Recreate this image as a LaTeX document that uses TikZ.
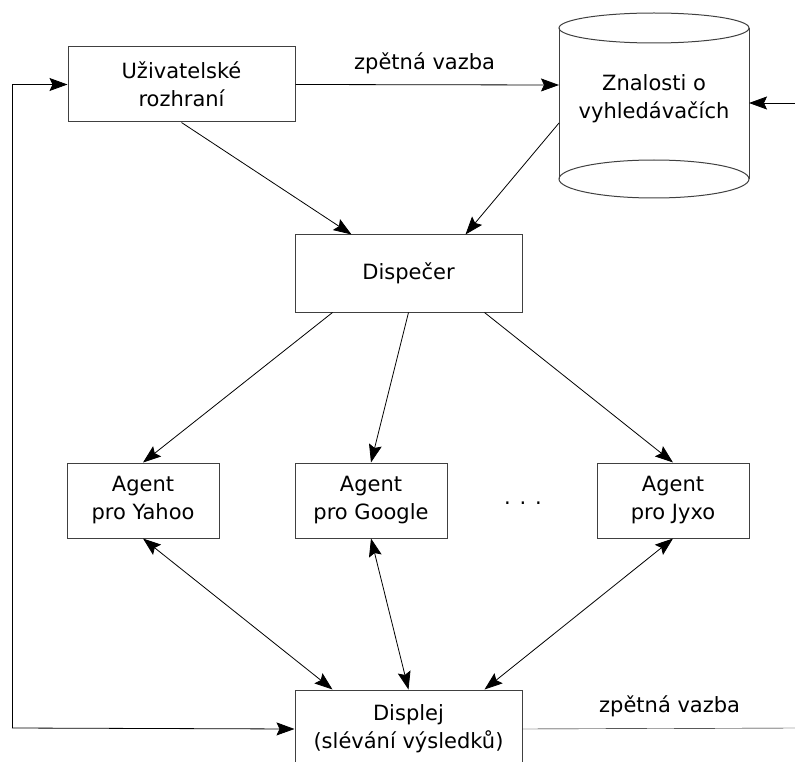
\documentclass[tikz,border=0pt]{standalone}
\usepackage{fontspec}
\setmainfont{DejaVu Sans}
\usetikzlibrary{arrows.meta}
\tikzset{
  >={Stealth[length=18pt,width=13pt,inset=3pt]},
  box/.style={draw=black!75, line width=1pt, minimum width=227pt, minimum height=75pt, inner sep=0pt},
  agentbox/.style={box, minimum width=152pt},
  outline/.style={draw=black!75, line width=1pt},
  link/.style={->, line width=0.8pt},
  dlink/.style={<->, line width=0.8pt},
  every node/.append style={font=\fontsize{21}{28}\selectfont, align=center}
}
\begin{document}
\begin{tikzpicture}[x=1pt, y=-1pt]
\useasboundingbox (0,0) rectangle (795,762);
\clip (0,0) rectangle (795,762);
% boxes
\node[box] (ui) at (181.5,84.5) {Uživatelské\\rozhraní};
\node[box, minimum height=77pt] (disp) at (408.5,273.5) {Dispečer};
\node[agentbox] (yahoo) at (143,500.5) {Agent\\pro Yahoo};
\node[agentbox] (google) at (371,500.5) {Agent\\pro Google};
\node[agentbox] (jyxo) at (673,500.5) {Agent\\pro Jyxo};
\node (dots) at (523,503) {. . .};
\node[box, minimum height=78pt] (show) at (408.5,729) {Displej\\(slévání výsledků)};
% knowledge base
\draw[outline] (559,28) -- (559,179) (749,28) -- (749,179);
\draw[outline] (654,28) ellipse [x radius=95, y radius=15];
\draw[outline] (654,179) ellipse [x radius=95, y radius=19];
\node (kb) at (654,99) {Znalosti o\\vyhledávačích};
\coordinate (kbW) at (559,85);
\coordinate (kbSW) at (559,123);
\coordinate (kbE) at (749,103);
\coordinate (feedin) at (795,103);
\coordinate (feedout) at (795,728);
\coordinate (loop) at (12,728);
% connectors
\draw[link] (ui.east) -- node[pos=0.49, above=7pt] {zpětná vazba} (kbW);
\draw[link] (feedin) -- (kbE);
\draw[link] (ui.south) -- ([xshift=-57pt]disp.north);
\draw[link] (kbSW) -- ([xshift=57pt]disp.north);
\foreach \a/\s in {yahoo/-76, google/0, jyxo/76} {
  \draw[link] ([xshift=\s pt]disp.south) -- (\a.north);
  \draw[dlink] (\a.south) -- ([xshift=\s pt]show.north);
}
\draw (show.east) -- node[pos=0.54, above=8pt] {zpětná vazba} (feedout);
\draw[link] (loop) |- (ui.west);
\draw[link] (loop) -- (show.west);
\end{tikzpicture}
\end{document}
